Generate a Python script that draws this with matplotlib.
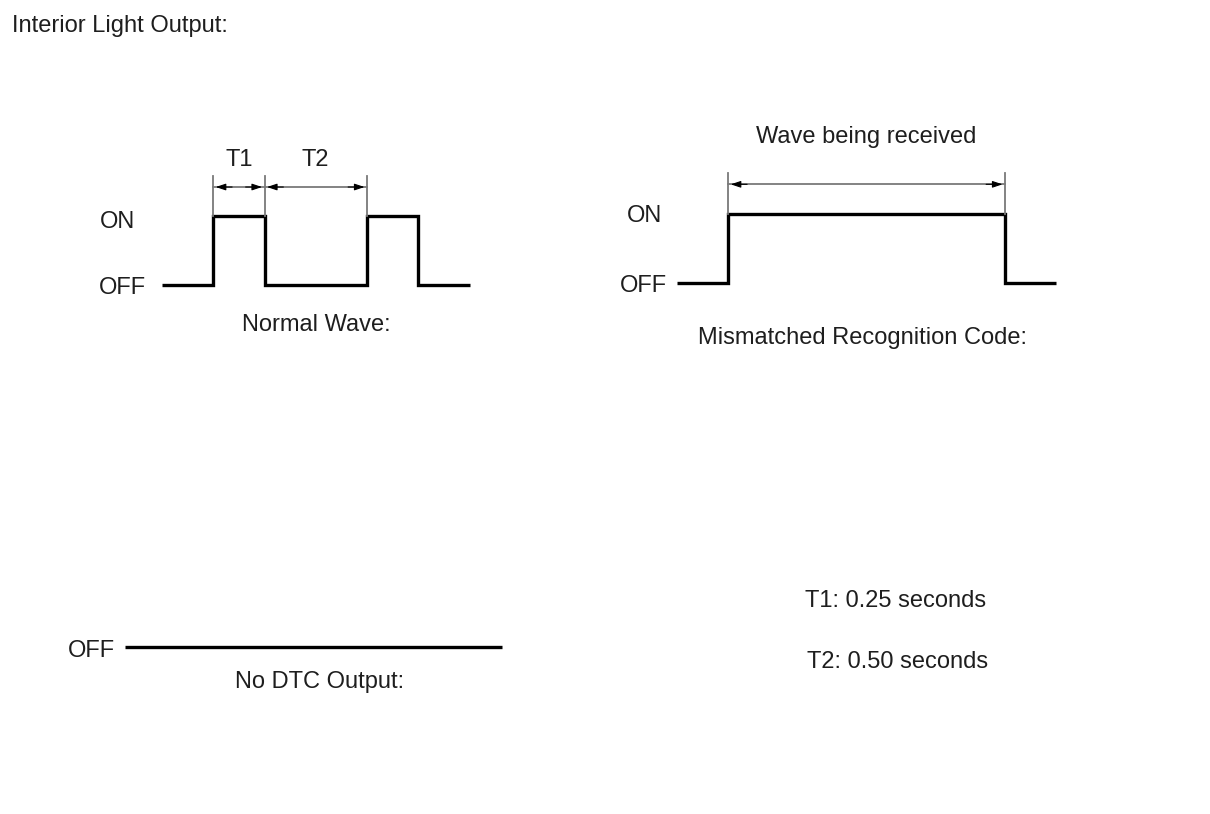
import matplotlib
matplotlib.use("Agg")
import matplotlib.pyplot as plt
from matplotlib.transforms import Affine2D

plt.rcParams['font.family'] = ['Liberation Sans', 'DejaVu Sans']

# ---- data (time in seconds, level 0 = OFF, 1 = ON) ----
T1 = 0.25
T2 = 0.50
normal_edges = [0.0, 0.25, 0.50, 1.00, 1.25, 1.50]
normal_levels = [0, 1, 0, 1, 0]
mismatch_edges = [0.0, 0.25, 1.60, 1.85]
mismatch_levels = [0, 1, 0]
nodtc_edges = [0.0, 1.84]
nodtc_levels = [0]
level_labels = ["OFF", "ON"]
title = "Interior Light Output:"
captions = ["Normal Wave:", "Mismatched Recognition Code:", "No DTC Output:"]
notes = ["T1: 0.25 seconds", "T2: 0.50 seconds"]

# ---- layout ----
W, H = 1210, 814
fig = plt.figure(figsize=(W / 100, H / 100), dpi=100)
ax = fig.add_axes([0, 0, 1, 1])
ax.set_xlim(0, W)
ax.set_ylim(H, 0)
ax.axis('off')

PX_PER_S = 205.0
PX_PER_LEVEL = 69.0
FS = 17
WAVE_LW = 2.4
DIM_COLOR = '#7a7a7a'
TXT = '#1e1e1e'
DY = 2  # small vertical text nudge (pixels)


def panel(x0, y0):
    return Affine2D().scale(PX_PER_S, -PX_PER_LEVEL).translate(x0, y0) + ax.transData


def label(x, y, s, ha='center', tr=None):
    if tr is None:
        ax.text(x, y + DY, s, fontsize=FS, ha=ha, va='center', color=TXT)
    else:
        ax.text(x, y - DY / PX_PER_LEVEL, s, transform=tr, fontsize=FS, ha=ha,
                va='center', color=TXT)


def draw_wave(tr, edges, levels):
    ax.stairs(levels, edges, baseline=None, color='black', lw=WAVE_LW,
              transform=tr, joinstyle='miter')


def dim_arrow(tr, t_a, t_b, y_lev):
    ax.plot([t_a, t_b], [y_lev, y_lev], color=DIM_COLOR, lw=1.3, transform=tr)
    gap = 0.012
    L = 0.08
    for tip, tail in ((t_a + gap, t_a + gap + L), (t_b - gap, t_b - gap - L)):
        ax.annotate('', xy=(tip, y_lev), xytext=(tail, y_lev),
                    xycoords=tr, textcoords=tr,
                    arrowprops=dict(arrowstyle='-|>,head_length=0.6,head_width=0.2',
                                    color='black', lw=0.8, shrinkA=0, shrinkB=0))


def dim_ticks(tr, times, top=1.58):
    for t in times:
        ax.plot([t, t], [1.0, top], color=DIM_COLOR, lw=1.3, transform=tr)


label(12, 24, title, ha='left')

# ---- Normal wave ----
trN = panel(162, 285)
draw_wave(trN, normal_edges, normal_levels)
dim_ticks(trN, [normal_edges[1], normal_edges[1] + T1, normal_edges[1] + T1 + T2], top=1.58)
dim_arrow(trN, normal_edges[1], normal_edges[1] + T1, 1.42)
dim_arrow(trN, normal_edges[1] + T1, normal_edges[1] + T1 + T2, 1.42)
label(0.25 + T1 / 2, 1.84, "T1", tr=trN)
label(0.25 + T1 + T2 / 2, 1.84, "T2", tr=trN)
label(100, 220, level_labels[1], ha='left')
label(99, 286, level_labels[0], ha='left')
label(316, 323, captions[0])

# ---- Mismatched ----
trM = panel(677, 283)
draw_wave(trM, mismatch_edges, mismatch_levels)
dim_ticks(trM, [mismatch_edges[1], mismatch_edges[2]], top=1.6)
dim_arrow(trM, mismatch_edges[1], mismatch_edges[2], 1.43)
label(866, 135, "Wave being received")
label(627, 214, level_labels[1], ha='left')
label(620, 284, level_labels[0], ha='left')
label(863, 336, captions[1])

# ---- No DTC ----
trD = panel(125, 647)
draw_wave(trD, nodtc_edges, nodtc_levels)
label(68, 649, level_labels[0], ha='left')
label(320, 680, captions[2])

# ---- notes ----
label(896, 599, notes[0])
label(898, 660, notes[1])

fig.savefig('out.png', dpi=100, facecolor='white')
